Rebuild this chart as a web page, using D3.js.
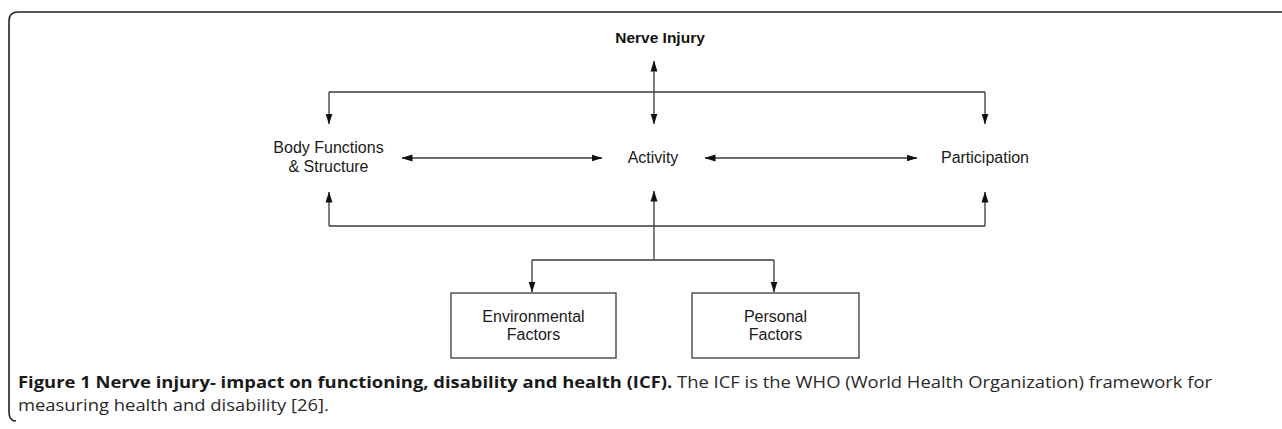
<html>
    <head>
        <script src="https://d3js.org/d3.v7.min.js"></script>
        <style>
            body { margin: 0; background: #fff; }
        </style>
    </head>

    <body>
        <script>
            // diagram content
            var topNode = "Nerve Injury";
            var mainNodes = ["Body Functions|& Structure", "Activity", "Participation"];
            var factorNodes = ["Environmental|Factors", "Personal|Factors"];
            // two-way links between the main nodes
            var sideLinks = [["Body Functions|& Structure", "Activity"], ["Activity", "Participation"]];
            var captionBold = "Figure 1 Nerve injury- impact on functioning, disability and health (ICF).";
            var captionText = ["The ICF is the WHO (World Health Organization) framework for", "measuring health and disability [26]."];

            var width = 1282, height = 429;

            var svg = d3.select("body")
            .append("svg")
                .attr("width", width)
                .attr("height", height)
                .style("font-family", "'Liberation Sans', Arial, sans-serif")

            // column positions
            var x = d3.scaleOrdinal()
                .domain(mainNodes)
                .range([329, 654, 985])
            var fx = d3.scaleOrdinal()
                .domain(factorNodes)
                .range([532, 774])

            // row positions
            var yTitle = 43, yTop = 92, yNode = 158, yBottom = 226, yBranch = 260
            var boxTop = 293, boxBottom = 358

            var lineColor = "#3a3a3a"

            // arrow head
            svg.append("defs").append("marker")
                .attr("id", "head")
                .attr("markerUnits", "userSpaceOnUse")
                .attr("viewBox", "0 0 11 8")
                .attr("refX", 10.5)
                .attr("refY", 4)
                .attr("markerWidth", 11)
                .attr("markerHeight", 8)
                .attr("orient", "auto-start-reverse")
            .append("path")
                .attr("d", "M0,0.5 L11,4 L0,7.5 Z")
                .attr("fill", "#111")

            // frame: top rule + left bracket with rounded corners
            svg.append("path")
                .attr("d", "M1282,12 H18 Q9,12 9,21 V412 Q9,421 16,421")
                .attr("fill", "none")
                .attr("stroke", "#222")
                .attr("stroke-width", 1.6)

            function line(x1, y1, x2, y2, start, end) {
                var l = svg.append("line")
                    .attr("x1", x1).attr("y1", y1)
                    .attr("x2", x2).attr("y2", y2)
                    .attr("stroke", lineColor)
                    .attr("stroke-width", 1.3)
                if (start) l.attr("marker-start", "url(#head)")
                if (end) l.attr("marker-end", "url(#head)")
                return l
            }

            var first = mainNodes[0], mid = mainNodes[1], last = mainNodes[2]

            // top bracket from nerve injury
            line(x(first), yTop, x(last), yTop)
            line(x(first), yTop, x(first), 124, false, true)
            line(x(last), yTop, x(last), 124, false, true)
            line(x(mid), 61, x(mid), 124, true, true)

            // side arrows between main nodes
            var gaps = [[402, 602], [705, 917]]
            sideLinks.forEach(function(d, i) {
                line(gaps[i][0], yNode, gaps[i][1], yNode, true, true)
            })

            // bottom bracket up into main nodes
            line(x(first), yBottom, x(last), yBottom)
            line(x(first), yBottom, x(first), 192, false, true)
            line(x(last), yBottom, x(last), 192, false, true)
            line(x(mid), yBranch, x(mid), 191, false, true)

            // branch to factor boxes
            line(fx(factorNodes[0]), yBranch, fx(factorNodes[1]), yBranch)
            factorNodes.forEach(function(d) {
                line(fx(d), yBranch, fx(d), boxTop - 1, false, true)
            })

            // title
            svg.append("text")
                .attr("x", 660)
                .attr("y", yTitle)
                .attr("text-anchor", "middle")
                .style("font-size", "15.5px")
                .style("font-weight", "bold")
                .attr("fill", "#111")
                .text(topNode)

            // main node labels
            var labelCenter = [328.5, 653, 985]
            mainNodes.forEach(function(d, k) {
                var parts = d.split("|")
                var t = svg.append("text")
                    .attr("text-anchor", "middle")
                    .style("font-size", "16px")
                    .attr("fill", "#1a1a1a")
                var y0 = parts.length > 1 ? 153 : 163
                parts.forEach(function(p, i) {
                    t.append("tspan")
                        .attr("x", labelCenter[k])
                        .attr("y", y0 + i * 19)
                        .text(p)
                })
            })

            // factor boxes
            var boxEdges = [[451, 616], [692, 859]]
            factorNodes.forEach(function(d, k) {
                var e = boxEdges[k]
                svg.append("rect")
                    .attr("x", e[0])
                    .attr("y", boxTop)
                    .attr("width", e[1] - e[0])
                    .attr("height", boxBottom - boxTop)
                    .attr("fill", "none")
                    .attr("stroke", lineColor)
                    .attr("stroke-width", 1.3)
                var t = svg.append("text")
                    .attr("text-anchor", "middle")
                    .style("font-size", "16px")
                    .attr("fill", "#1a1a1a")
                d.split("|").forEach(function(p, i) {
                    t.append("tspan")
                        .attr("x", (e[0] + e[1]) / 2)
                        .attr("y", 322 + i * 18)
                        .text(p)
                })
            })

            // caption, fitted to the column width
            var cap = svg.append("g")
                .style("font-family", "'Open Sans', 'Noto Sans', sans-serif")
                .style("font-size", "16px")
            var line1 = cap.append("text")
                .attr("x", 18)
                .attr("y", 388)
                .attr("fill", "#2a2a2a")
            line1.append("tspan")
                .style("font-weight", "bold")
                .attr("fill", "#1a1a1a")
                .text(captionBold)
            line1.append("tspan")
                .text(" " + captionText[0])
            var line2 = cap.append("text")
                .attr("x", 18)
                .attr("y", 411)
                .attr("fill", "#2a2a2a")
                .text(captionText[1])

            var w1 = line1.node().getComputedTextLength()
            var k = 1194 / w1
            var w2 = line2.node().getComputedTextLength()
            line1.attr("textLength", 1194).attr("lengthAdjust", "spacingAndGlyphs")
            line2.attr("textLength", w2 * k).attr("lengthAdjust", "spacingAndGlyphs")

        </script>
    </body>
</html>
